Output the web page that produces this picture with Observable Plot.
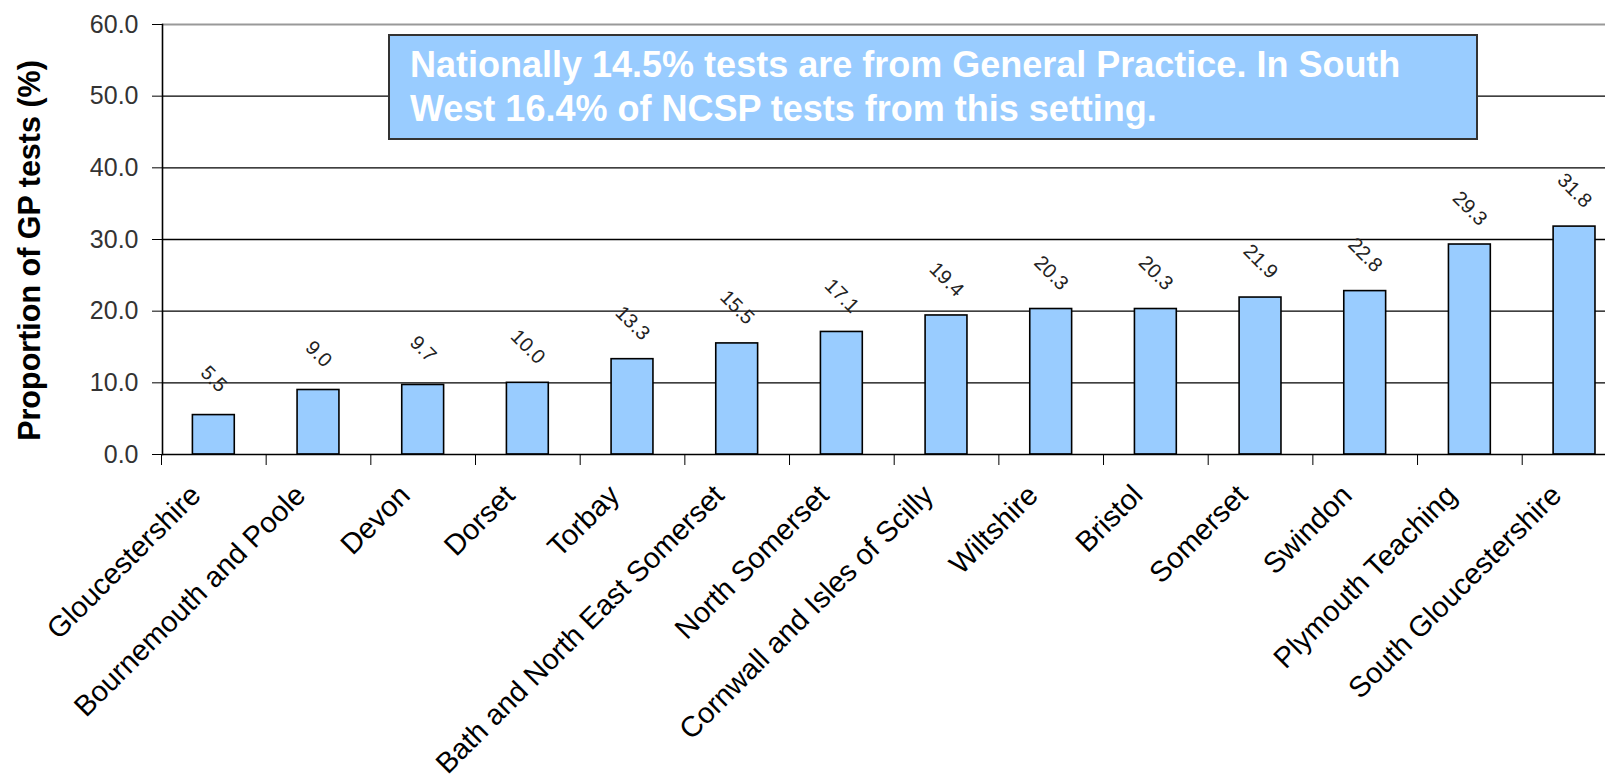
<!DOCTYPE html>
<html>
<head>
<meta charset="utf-8">
<script src="https://cdn.jsdelivr.net/npm/d3@7"></script>
<script src="https://cdn.jsdelivr.net/npm/@observablehq/plot@0.6"></script>
<style>
  html, body { margin: 0; padding: 0; overflow: hidden; background: #fff; }
  #wrap { position: relative; width: 1605px; height: 780px; overflow: hidden; font-family: "Liberation Sans", Arial, sans-serif; }
  #note {
    position: absolute; left: 388px; top: 34px; width: 1090px; height: 106px;
    box-sizing: border-box;
    background: #99CCFF; border: 2px solid #333; color: #fff;
    font-weight: bold; font-size: 36px; line-height: 44px;
    padding: 7px 0 0 20px; white-space: nowrap;
  }
</style>
</head>
<body>
<div id="wrap">
  <div id="chart"></div>
  <div id="note">Nationally 14.5% tests are from General Practice. In South<br>West 16.4% of NCSP tests from this setting.</div>
</div>
<script>
const categories = [
  "Gloucestershire", "Bournemouth and Poole", "Devon", "Dorset", "Torbay",
  "Bath and North East Somerset", "North Somerset", "Cornwall and Isles of Scilly",
  "Wiltshire", "Bristol", "Somerset", "Swindon", "Plymouth Teaching", "South Gloucestershire"
];
const values = [5.5, 9.0, 9.7, 10.0, 13.3, 15.5, 17.1, 19.4, 20.3, 20.3, 21.9, 22.8, 29.3, 31.8];
const yTicks = [0, 10, 20, 30, 40, 50, 60];
const yTitle = "Proportion of GP tests (%)";

const data = categories.map((c, i) => ({region: c, value: values[i]}));

const W = 1605, H = 780;
const plotLeft = 162, plotTop = 24, plotBottom = 454;
const xRange = [161, 161 + 14 * 104.67];
const step = (xRange[1] - xRange[0]) / categories.length;

const chart = Plot.plot({
  width: W,
  height: H,
  marginLeft: plotLeft,
  marginRight: 0,
  marginTop: plotTop,
  marginBottom: H - plotBottom,
  style: {fontFamily: '"Liberation Sans", Arial, sans-serif', background: "white", overflow: "visible"},
  x: {type: "band", domain: categories, range: xRange, paddingInner: 0.6, paddingOuter: 0.3, round: false, axis: null},
  y: {domain: [0, 60], range: [plotBottom, plotTop], axis: null},
  marks: [
    Plot.ruleY(yTicks.filter(d => d > 0 && d < 60), {stroke: "#000", strokeWidth: 1.3}),
    Plot.ruleY([60], {stroke: "#999", strokeWidth: 2}),
    Plot.barY(data, {x: "region", y: "value", fill: "#99CCFF", stroke: "#000", strokeWidth: 1.6}),
    Plot.ruleY([0], {stroke: "#000", strokeWidth: 1.6}),
    Plot.frame({anchor: "left", stroke: "#000", strokeWidth: 1.6}),
    Plot.axisY({ticks: yTicks, tickSize: 10, tickPadding: 14, tickFormat: d => d.toFixed(1),
      fontSize: 25, stroke: "#000", fill: "#333", label: null}),
    Plot.axisX({tickSize: 11, tickFormat: () => "", dx: -step / 2, stroke: "#000", label: null}),
    Plot.axisX({tickSize: 0, tickPadding: 36, tickRotate: -45, fontSize: 29, fill: "#000", dx: -18, label: null}),
    Plot.text(data, {x: "region", y: "value", text: d => d.value.toFixed(1), rotate: 45, dy: -36,
      fontSize: 20, fill: "#222"}),
    Plot.text([yTitle], {text: d => d, frameAnchor: "left", textAnchor: "middle", rotate: -90,
      dx: -132, dy: 11, fontSize: 30.5, fontWeight: "bold", fill: "#000"})
  ]
});
document.getElementById("chart").appendChild(chart);
</script>
</body>
</html>
